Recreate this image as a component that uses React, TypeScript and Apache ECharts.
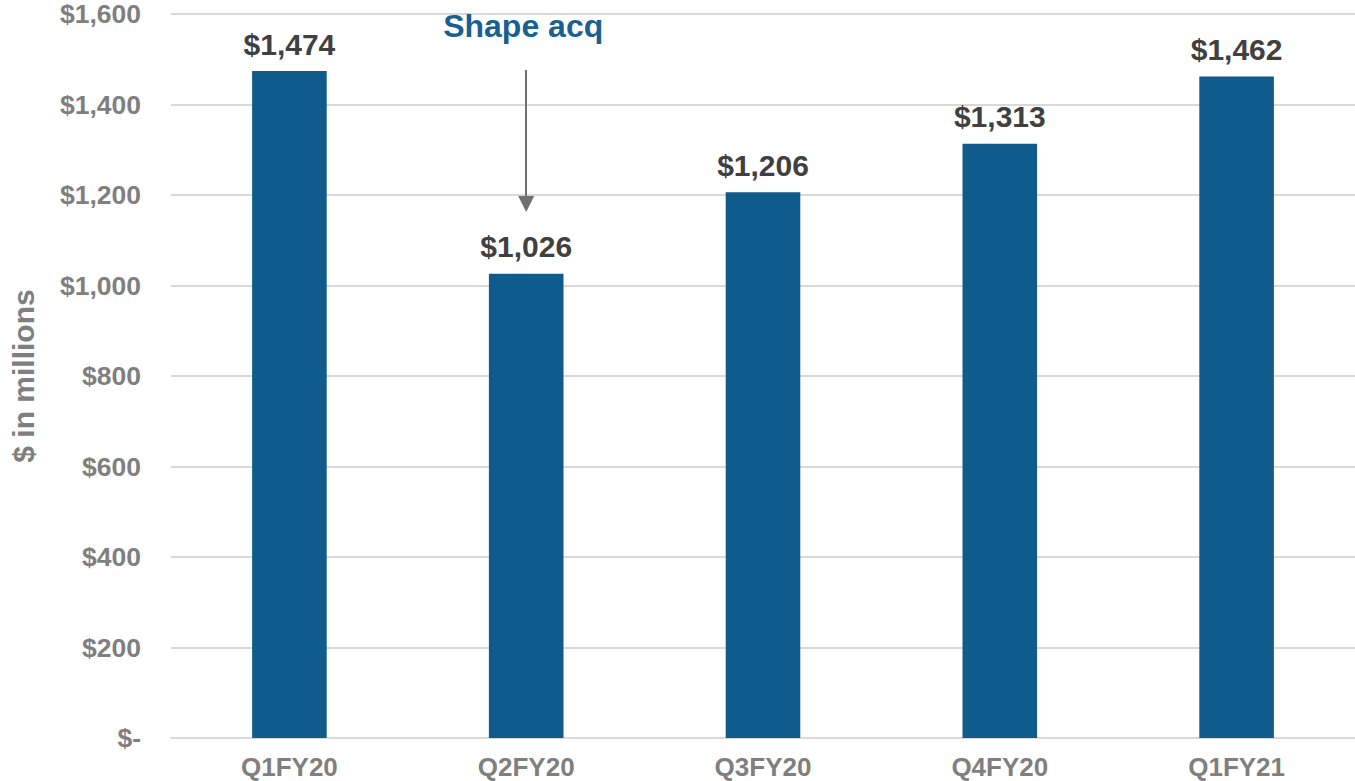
import React, { useEffect, useRef } from "react";
import * as echarts from "echarts";

const categories = ["Q1FY20", "Q2FY20", "Q3FY20", "Q4FY20", "Q1FY21"];
const values = [1474, 1026, 1206, 1313, 1462];
const annotationText = "Shape acq";
const annotationCategory = "Q2FY20";
const arrowFrom = 1476;
const arrowTo = 1180;
const annotationLabelValue = 1574;

const fmt = (v: number) => (v === 0 ? "$-" : "$" + v.toLocaleString("en-US"));

export default function App() {
  const ref = useRef<HTMLDivElement>(null);
  useEffect(() => {
    document.body.style.margin = "0";
    const chart = echarts.init(ref.current!, null, { renderer: "svg" });
    const font = "'Liberation Sans', Arial, sans-serif";
    chart.setOption({
      animation: false,
      textStyle: { fontFamily: font },
      grid: { left: 166, right: 0, top: 14, bottom: 43 },
      xAxis: {
        type: "category",
        data: categories,
        axisLine: { lineStyle: { color: "#d9d9d9", width: 2 } },
        axisTick: { show: false },
        axisLabel: { color: "#7f7f7f", fontWeight: "bold", fontSize: 26, margin: 16, fontFamily: font },
      },
      yAxis: {
        type: "value",
        min: 0,
        max: 1600,
        interval: 200,
        name: "$ in millions",
        nameLocation: "middle",
        nameRotate: 90,
        nameGap: 133,
        nameTextStyle: { color: "#7f7f7f", fontWeight: "bold", fontSize: 30, fontFamily: font },
        axisLine: { show: false },
        axisTick: { show: false },
        splitLine: { lineStyle: { color: "#d9d9d9", width: 2 } },
        axisLabel: { color: "#7f7f7f", fontWeight: "bold", fontSize: 26.5, margin: 30, formatter: fmt, fontFamily: font },
      },
      series: [
        {
          type: "bar",
          data: values,
          barWidth: "31.5%",
          itemStyle: { color: "#0f5b8b" },
          label: {
            show: true,
            position: "top",
            distance: 12,
            color: "#404040",
            fontWeight: "bold",
            fontSize: 30,
            fontFamily: font,
            formatter: (p: any) => fmt(p.value),
          },
          markLine: {
            silent: true,
            symbol: ["none", "triangle"],
            symbolSize: [16, 16],
            label: { show: false },
            lineStyle: { color: "#707070", width: 2, type: "solid" },
            data: [
              [
                { coord: [annotationCategory, arrowFrom] },
                { coord: [annotationCategory, arrowTo] },
              ],
            ],
          },
          markPoint: {
            silent: true,
            symbol: "circle",
            symbolSize: 0,
            label: {
              show: true,
              position: "inside",
              offset: [-3, 0],
              formatter: annotationText,
              color: "#1a5f8f",
              fontWeight: "bold",
              fontSize: 32,
              fontFamily: font,
            },
            data: [{ coord: [annotationCategory, annotationLabelValue] }],
          },
        },
      ],
    });
    return () => chart.dispose();
  }, []);
  return <div ref={ref} style={{ width: 1355, height: 781 }} />;
}
